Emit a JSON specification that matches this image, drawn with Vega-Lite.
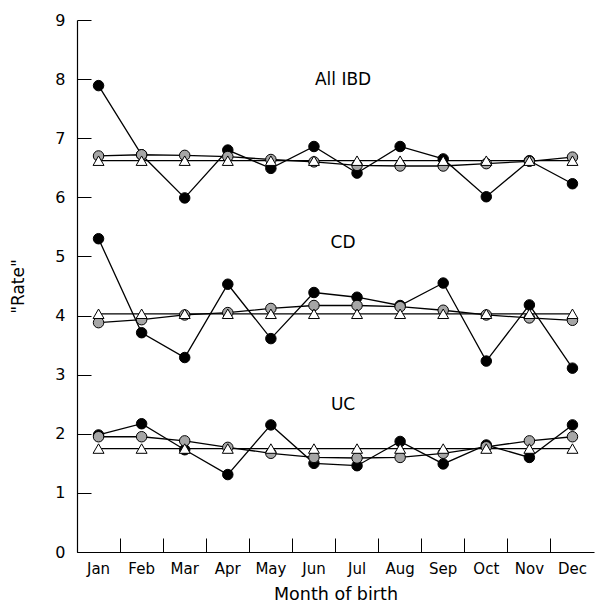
{
  "$schema": "https://vega.github.io/schema/vega-lite/v6.json",
  "width": 517,
  "height": 532,
  "autosize": {"type": "none"},
  "padding": {"left": 77, "top": 20, "right": 16, "bottom": 52},
  "background": "white",
  "config": {
    "view": {"stroke": null},
    "font": "DejaVu Sans",
    "axis": {
      "domainColor": "black",
      "domainWidth": 1.2,
      "tickColor": "black",
      "tickWidth": 1,
      "tickSize": -14,
      "labelColor": "black",
      "titleColor": "black",
      "labelFontSize": 15,
      "titleFontSize": 17,
      "titleFontWeight": "normal",
      "grid": false
    }
  },
  "datasets": {
    "rates": [
      {"month": "Jan", "group": "All IBD", "series": "observed", "rate": 7.89},
      {"month": "Feb", "group": "All IBD", "series": "observed", "rate": 6.72},
      {"month": "Mar", "group": "All IBD", "series": "observed", "rate": 5.99},
      {"month": "Apr", "group": "All IBD", "series": "observed", "rate": 6.80},
      {"month": "May", "group": "All IBD", "series": "observed", "rate": 6.49},
      {"month": "Jun", "group": "All IBD", "series": "observed", "rate": 6.86},
      {"month": "Jul", "group": "All IBD", "series": "observed", "rate": 6.41},
      {"month": "Aug", "group": "All IBD", "series": "observed", "rate": 6.86},
      {"month": "Sep", "group": "All IBD", "series": "observed", "rate": 6.65},
      {"month": "Oct", "group": "All IBD", "series": "observed", "rate": 6.01},
      {"month": "Nov", "group": "All IBD", "series": "observed", "rate": 6.62},
      {"month": "Dec", "group": "All IBD", "series": "observed", "rate": 6.23},
      {"month": "Jan", "group": "All IBD", "series": "fitted", "rate": 6.70},
      {"month": "Feb", "group": "All IBD", "series": "fitted", "rate": 6.72},
      {"month": "Mar", "group": "All IBD", "series": "fitted", "rate": 6.71},
      {"month": "Apr", "group": "All IBD", "series": "fitted", "rate": 6.69},
      {"month": "May", "group": "All IBD", "series": "fitted", "rate": 6.64},
      {"month": "Jun", "group": "All IBD", "series": "fitted", "rate": 6.60},
      {"month": "Jul", "group": "All IBD", "series": "fitted", "rate": 6.54},
      {"month": "Aug", "group": "All IBD", "series": "fitted", "rate": 6.53},
      {"month": "Sep", "group": "All IBD", "series": "fitted", "rate": 6.53},
      {"month": "Oct", "group": "All IBD", "series": "fitted", "rate": 6.57},
      {"month": "Nov", "group": "All IBD", "series": "fitted", "rate": 6.61},
      {"month": "Dec", "group": "All IBD", "series": "fitted", "rate": 6.68},
      {"month": "Jan", "group": "All IBD", "series": "expected", "rate": 6.62},
      {"month": "Feb", "group": "All IBD", "series": "expected", "rate": 6.62},
      {"month": "Mar", "group": "All IBD", "series": "expected", "rate": 6.62},
      {"month": "Apr", "group": "All IBD", "series": "expected", "rate": 6.62},
      {"month": "May", "group": "All IBD", "series": "expected", "rate": 6.62},
      {"month": "Jun", "group": "All IBD", "series": "expected", "rate": 6.62},
      {"month": "Jul", "group": "All IBD", "series": "expected", "rate": 6.62},
      {"month": "Aug", "group": "All IBD", "series": "expected", "rate": 6.62},
      {"month": "Sep", "group": "All IBD", "series": "expected", "rate": 6.62},
      {"month": "Oct", "group": "All IBD", "series": "expected", "rate": 6.62},
      {"month": "Nov", "group": "All IBD", "series": "expected", "rate": 6.62},
      {"month": "Dec", "group": "All IBD", "series": "expected", "rate": 6.62},
      {"month": "Jan", "group": "CD", "series": "observed", "rate": 5.30},
      {"month": "Feb", "group": "CD", "series": "observed", "rate": 3.71},
      {"month": "Mar", "group": "CD", "series": "observed", "rate": 3.29},
      {"month": "Apr", "group": "CD", "series": "observed", "rate": 4.53},
      {"month": "May", "group": "CD", "series": "observed", "rate": 3.61},
      {"month": "Jun", "group": "CD", "series": "observed", "rate": 4.39},
      {"month": "Jul", "group": "CD", "series": "observed", "rate": 4.31},
      {"month": "Aug", "group": "CD", "series": "observed", "rate": 4.17},
      {"month": "Sep", "group": "CD", "series": "observed", "rate": 4.55},
      {"month": "Oct", "group": "CD", "series": "observed", "rate": 3.23},
      {"month": "Nov", "group": "CD", "series": "observed", "rate": 4.18},
      {"month": "Dec", "group": "CD", "series": "observed", "rate": 3.11},
      {"month": "Jan", "group": "CD", "series": "fitted", "rate": 3.88},
      {"month": "Feb", "group": "CD", "series": "fitted", "rate": 3.93},
      {"month": "Mar", "group": "CD", "series": "fitted", "rate": 4.01},
      {"month": "Apr", "group": "CD", "series": "fitted", "rate": 4.05},
      {"month": "May", "group": "CD", "series": "fitted", "rate": 4.12},
      {"month": "Jun", "group": "CD", "series": "fitted", "rate": 4.17},
      {"month": "Jul", "group": "CD", "series": "fitted", "rate": 4.17},
      {"month": "Aug", "group": "CD", "series": "fitted", "rate": 4.15},
      {"month": "Sep", "group": "CD", "series": "fitted", "rate": 4.09},
      {"month": "Oct", "group": "CD", "series": "fitted", "rate": 4.01},
      {"month": "Nov", "group": "CD", "series": "fitted", "rate": 3.96},
      {"month": "Dec", "group": "CD", "series": "fitted", "rate": 3.92},
      {"month": "Jan", "group": "CD", "series": "expected", "rate": 4.03},
      {"month": "Feb", "group": "CD", "series": "expected", "rate": 4.03},
      {"month": "Mar", "group": "CD", "series": "expected", "rate": 4.03},
      {"month": "Apr", "group": "CD", "series": "expected", "rate": 4.03},
      {"month": "May", "group": "CD", "series": "expected", "rate": 4.03},
      {"month": "Jun", "group": "CD", "series": "expected", "rate": 4.03},
      {"month": "Jul", "group": "CD", "series": "expected", "rate": 4.03},
      {"month": "Aug", "group": "CD", "series": "expected", "rate": 4.03},
      {"month": "Sep", "group": "CD", "series": "expected", "rate": 4.03},
      {"month": "Oct", "group": "CD", "series": "expected", "rate": 4.03},
      {"month": "Nov", "group": "CD", "series": "expected", "rate": 4.03},
      {"month": "Dec", "group": "CD", "series": "expected", "rate": 4.03},
      {"month": "Jan", "group": "UC", "series": "observed", "rate": 1.98},
      {"month": "Feb", "group": "UC", "series": "observed", "rate": 2.17},
      {"month": "Mar", "group": "UC", "series": "observed", "rate": 1.73},
      {"month": "Apr", "group": "UC", "series": "observed", "rate": 1.31},
      {"month": "May", "group": "UC", "series": "observed", "rate": 2.15},
      {"month": "Jun", "group": "UC", "series": "observed", "rate": 1.50},
      {"month": "Jul", "group": "UC", "series": "observed", "rate": 1.46},
      {"month": "Aug", "group": "UC", "series": "observed", "rate": 1.87},
      {"month": "Sep", "group": "UC", "series": "observed", "rate": 1.49},
      {"month": "Oct", "group": "UC", "series": "observed", "rate": 1.81},
      {"month": "Nov", "group": "UC", "series": "observed", "rate": 1.60},
      {"month": "Dec", "group": "UC", "series": "observed", "rate": 2.15},
      {"month": "Jan", "group": "UC", "series": "fitted", "rate": 1.95},
      {"month": "Feb", "group": "UC", "series": "fitted", "rate": 1.95},
      {"month": "Mar", "group": "UC", "series": "fitted", "rate": 1.88},
      {"month": "Apr", "group": "UC", "series": "fitted", "rate": 1.77},
      {"month": "May", "group": "UC", "series": "fitted", "rate": 1.67},
      {"month": "Jun", "group": "UC", "series": "fitted", "rate": 1.60},
      {"month": "Jul", "group": "UC", "series": "fitted", "rate": 1.59},
      {"month": "Aug", "group": "UC", "series": "fitted", "rate": 1.60},
      {"month": "Sep", "group": "UC", "series": "fitted", "rate": 1.67},
      {"month": "Oct", "group": "UC", "series": "fitted", "rate": 1.78},
      {"month": "Nov", "group": "UC", "series": "fitted", "rate": 1.88},
      {"month": "Dec", "group": "UC", "series": "fitted", "rate": 1.95},
      {"month": "Jan", "group": "UC", "series": "expected", "rate": 1.75},
      {"month": "Feb", "group": "UC", "series": "expected", "rate": 1.75},
      {"month": "Mar", "group": "UC", "series": "expected", "rate": 1.75},
      {"month": "Apr", "group": "UC", "series": "expected", "rate": 1.75},
      {"month": "May", "group": "UC", "series": "expected", "rate": 1.75},
      {"month": "Jun", "group": "UC", "series": "expected", "rate": 1.75},
      {"month": "Jul", "group": "UC", "series": "expected", "rate": 1.75},
      {"month": "Aug", "group": "UC", "series": "expected", "rate": 1.75},
      {"month": "Sep", "group": "UC", "series": "expected", "rate": 1.75},
      {"month": "Oct", "group": "UC", "series": "expected", "rate": 1.75},
      {"month": "Nov", "group": "UC", "series": "expected", "rate": 1.75},
      {"month": "Dec", "group": "UC", "series": "expected", "rate": 1.75}
    ],
    "labels": [
      {"month": "Jul", "label": "All IBD", "rate": 7.99},
      {"month": "Jul", "label": "CD", "rate": 5.22},
      {"month": "Jul", "label": "UC", "rate": 2.49}
    ]
  },
  "encoding": {
    "x": {
      "field": "month",
      "type": "ordinal",
      "sort": ["Jan", "Feb", "Mar", "Apr", "May", "Jun", "Jul", "Aug", "Sep", "Oct", "Nov", "Dec"],
      "scale": {"type": "band", "paddingInner": 0, "paddingOuter": 0},
      "axis": {"title": "Month of birth", "labelAngle": 0, "bandPosition": 0, "labelPadding": 23, "titlePadding": 9, "titleFontSize": 17.5}
    },
    "y": {
      "field": "rate",
      "type": "quantitative",
      "scale": {"domain": [0, 9], "nice": false, "zero": true},
      "axis": {"title": "\"Rate\"", "values": [0, 1, 2, 3, 4, 5, 6, 7, 8, 9], "labelPadding": 26, "titlePadding": 27, "format": "d", "labelFontSize": 16}
    }
  },
  "layer": [
    {
      "data": {"name": "rates"},
      "mark": {"type": "line", "color": "black", "strokeWidth": 1.3},
      "encoding": {"detail": [{"field": "group"}, {"field": "series"}]}
    },
    {
      "data": {"name": "rates"},
      "transform": [{"filter": "datum.series === 'observed'"}],
      "mark": {"type": "point", "shape": "circle", "filled": true, "fill": "black", "stroke": "black", "strokeWidth": 1, "size": 110, "opacity": 1}
    },
    {
      "data": {"name": "rates"},
      "transform": [{"filter": "datum.series === 'fitted'"}],
      "mark": {"type": "point", "shape": "circle", "filled": true, "fill": "#a6a6a6", "stroke": "black", "strokeWidth": 1, "size": 110, "opacity": 1}
    },
    {
      "data": {"name": "rates"},
      "transform": [{"filter": "datum.series === 'expected'"}],
      "mark": {"type": "point", "shape": "triangle-up", "filled": true, "fill": "white", "stroke": "black", "strokeWidth": 1, "size": 120, "opacity": 1}
    },
    {
      "data": {"name": "labels"},
      "mark": {"type": "text", "fontSize": 17, "color": "black", "dx": -14, "align": "center", "baseline": "middle"},
      "encoding": {"text": {"field": "label"}}
    }
  ]
}
